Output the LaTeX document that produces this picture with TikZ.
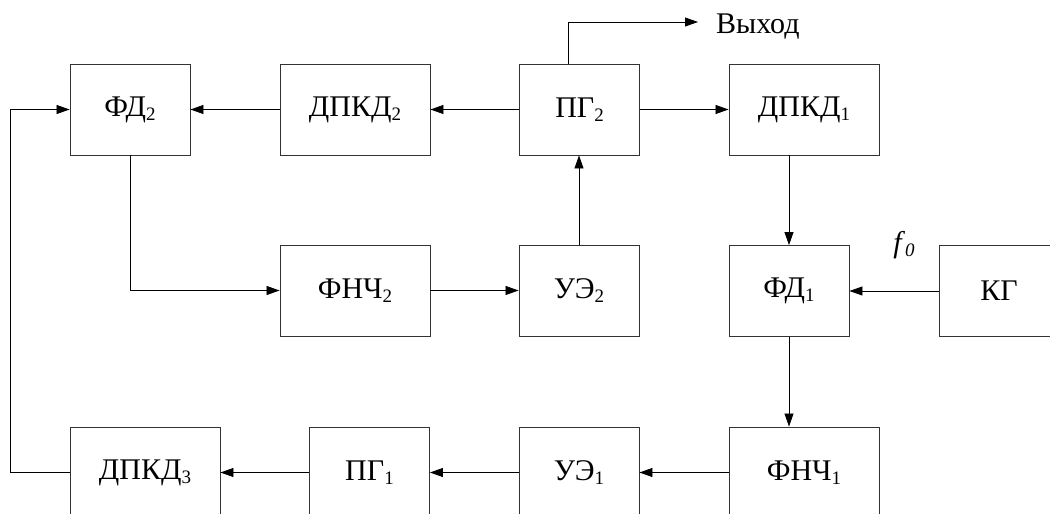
\documentclass[tikz,border=0pt]{standalone}
\usepackage{fontspec}
\setmainfont{Liberation Serif}
\usetikzlibrary{arrows.meta,calc}
\newcommand\lo[1]{\raisebox{-0.14em}{\fontsize{19}{19}\selectfont #1}}
\begin{document}
\begin{tikzpicture}[x=1pt,y=-1pt,
  blk/.style={draw=black!80,line width=0.9pt,minimum height=91pt,inner sep=0pt,
    font=\fontsize{30}{32}\selectfont},
  narrow/.style={blk,minimum width=120pt},
  wide/.style={blk,minimum width=150pt},
  conn/.style={line width=0.8pt,-{Triangle[length=13pt,width=9pt]}},
  wire/.style={line width=0.8pt}]
\useasboundingbox (0,0) rectangle (1050,514);
\clip (0,0) rectangle (1050,514);
% row 1
\node[narrow] (FD2)   at (130,109.5)   {ФД\lo{2}};
\node[wide]   (DPKD2) at (355,109.5)   {ДПКД\lo{2}};
\node[narrow] (PG2)   at (579.5,109.5) {ПГ\lo{2}};
\node[wide]   (DPKD1) at (804,109.5)   {ДПКД\lo{1}};
% row 2
\node[wide]   (FNC2)  at (355,290.5)   {ФНЧ\lo{2}};
\node[narrow] (UE2)   at (579,290.5)   {УЭ\lo{2}};
\node[narrow] (FD1)   at (789,291)     {ФД\lo{1}};
\node[narrow] (KG)    at (999,291)     {КГ};
% row 3
\node[wide]   (DPKD3) at (145,472.5)   {ДПКД\lo{3}};
\node[narrow] (PG1)   at (369.5,472.5) {ПГ\lo{1}};
\node[narrow] (UE1)   at (579,472.5)   {УЭ\lo{1}};
\node[wide]   (FNC1)  at (804,472.5)   {ФНЧ\lo{1}};
% labels
\coordinate (out) at (698,22);
\node[anchor=west,font=\fontsize{30}{32}\selectfont,inner sep=0pt] (vyh) at (716,27) {Выход};
\node[font=\fontsize{30}{32}\selectfont,inner sep=0pt] (f0) at (904,245) {\textit{f}\lo{\textit{0}}};
% connectors
\draw[conn] (PG2.west) -- (DPKD2.east);
\draw[conn] (DPKD2.west) -- (FD2.east);
\draw[conn] (PG2.east) -- (DPKD1.west);
\draw[conn] ([xshift=-11.5pt]PG2.north) |- (out);
\draw[conn] (FD2.south) |- (FNC2.west);
\draw[conn] (FNC2.east) -- (UE2.west);
\draw[conn] (UE2.north) -- (UE2.north |- PG2.south);
\draw[conn] (FD1.north |- DPKD1.south) -- (FD1.north);
\draw[conn] (KG.west) -- (FD1.east);
\draw[conn] (FD1.south) -- (FD1.south |- FNC1.north);
\draw[conn] (FNC1.west) -- (UE1.east);
\draw[conn] (UE1.west) -- (PG1.east);
\draw[conn] (PG1.west) -- (DPKD3.east);
\draw[conn] (DPKD3.west) -- ++(-59,0) |- (FD2.west);
\end{tikzpicture}
\end{document}
